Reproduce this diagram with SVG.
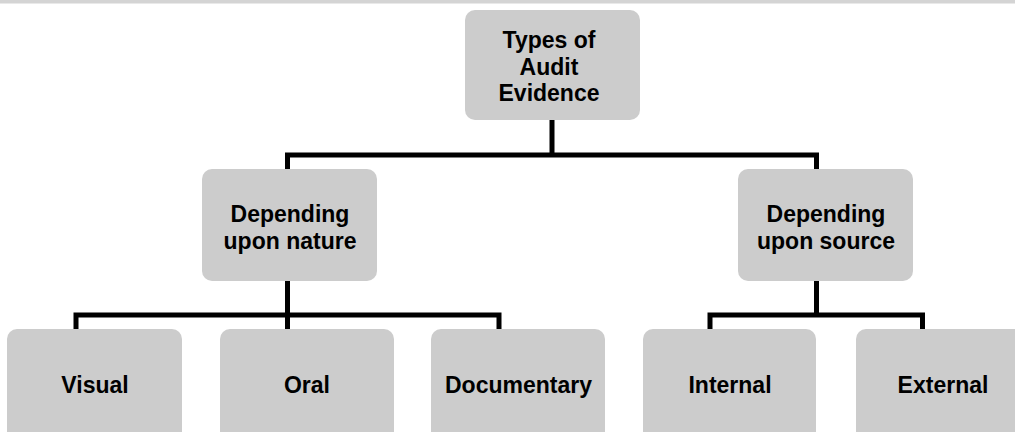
<svg xmlns="http://www.w3.org/2000/svg" width="1015" height="432" viewBox="0 0 1015 432">
<style>
.box{fill:#cccccc;}
.t{font-family:"Liberation Sans",Arial,sans-serif;font-weight:bold;font-size:23px;fill:#000;text-anchor:middle;}
.ln{stroke:#000;stroke-width:5;fill:none;stroke-linejoin:miter;stroke-linecap:butt;}
</style>
<rect x="0" y="0" width="1015" height="3.5" fill="#d4d4d4"/>
<g id="connectors">
<path class="ln" d="M552,120 V155 M287.5,169 V155 H816.5 V169"/>
<path class="ln" d="M287.5,281 V329 M76,329 V315 H499 V329"/>
<path class="ln" d="M816.5,281 V315 M710,329 V315 H922.5 V329"/>
</g>
<g id="types">
<rect class="box" x="465" y="10" width="175" height="110" rx="10"/>
<text class="t" x="549" y="48">Types of</text>
<text class="t" x="549" y="74.5">Audit</text>
<text class="t" x="549" y="101">Evidence</text>
</g>
<g id="nature">
<rect class="box" x="202" y="169" width="175" height="112" rx="10"/>
<text class="t" x="290" y="222">Depending</text>
<text class="t" x="290" y="248.5">upon nature</text>
</g>
<g id="source">
<rect class="box" x="738" y="169" width="175" height="112" rx="10"/>
<text class="t" x="826" y="222">Depending</text>
<text class="t" x="826" y="248.5">upon source</text>
</g>
<g id="visual">
<rect class="box" x="7" y="329" width="175" height="130" rx="10"/>
<text class="t" x="95" y="393">Visual</text>
</g>
<g id="oral">
<rect class="box" x="220" y="329" width="174" height="130" rx="10"/>
<text class="t" x="307" y="393">Oral</text>
</g>
<g id="documentary">
<rect class="box" x="431" y="329" width="174" height="130" rx="10"/>
<text class="t" x="518.5" y="393">Documentary</text>
</g>
<g id="internal">
<rect class="box" x="643" y="329" width="173" height="130" rx="10"/>
<text class="t" x="730" y="393">Internal</text>
</g>
<g id="external">
<rect class="box" x="856" y="329" width="175" height="130" rx="10"/>
<text class="t" x="943" y="393">External</text>
</g>
</svg>
